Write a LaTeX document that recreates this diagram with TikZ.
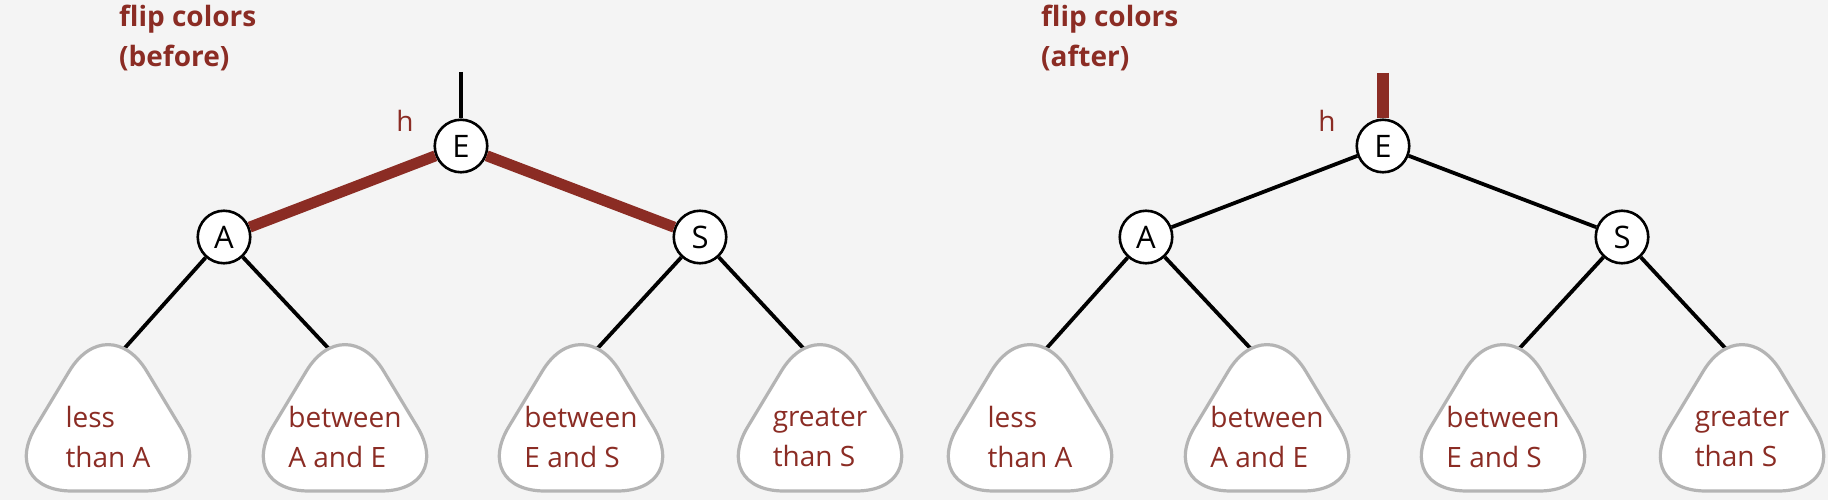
\documentclass[tikz,border=0pt]{standalone}
\usepackage{fontspec}
\setmainfont{Open Sans}
\usepackage{xcolor}
\usepackage{tikz}
\usetikzlibrary{positioning}
\definecolor{bookred}{HTML}{8B2C24}
\definecolor{pagebg}{HTML}{F4F4F4}
\definecolor{treegray}{HTML}{B4B4B4}

\begin{document}
\begin{tikzpicture}[x=1pt, y=-1pt, on grid,
  key/.style={draw, circle, fill=white, line width=2.6pt, minimum size=52.5pt, inner sep=0pt,
    font=\fontsize{31}{33}\selectfont},
  link/.style={line width=3.8pt},
  redlink/.style={draw=bookred, line width=11pt},
  subtree/.style={draw=treegray, fill=white, line width=3.2pt, rounded corners=75pt},
  rangebox/.style={text=bookred, align=left, inner sep=0pt, font=\fontsize{28}{40}\selectfont},
  hlabel/.style={text=bookred, inner sep=0pt, font=\fontsize{28}{30}\selectfont},
  title/.style={text=bookred, align=left, inner sep=0pt, anchor=north west,
    font=\bfseries\fontsize{28}{40}\selectfont}]
  \useasboundingbox (0,0) rectangle (1828,500);
  \fill[pagebg] (0,0) rectangle (1828,500);

  % before the flip
  \node[title] (ltitle) at (119,5) {flip colors\\(before)};
  \node[key] (lE) at (461,146) {E};
  \node[key] (lA) at (224,237) {A};
  \node[key] (lS) at (700,237) {S};
  \node[hlabel, above left=25pt and 56pt of lE] (lh) {h};
  \coordinate (lstem) at (461,72);
  \coordinate (lt1) at (123,350);
  \coordinate (lt2) at (330,350);
  \coordinate (lt3) at (596,350);
  \coordinate (lt4) at (805,350);

  \draw[link] (lstem) -- (lE);
  \draw[redlink] (lE) -- (lA);
  \draw[redlink] (lE) -- (lS);
  \draw[link] (lA) -- (lt1);
  \draw[link] (lA) -- (lt2);
  \draw[link] (lS) -- (lt3);
  \draw[link] (lS) -- (lt4);

  \draw[subtree] (108,491) -- (219,491) -- (108,307) -- (-3,491) -- (108,491);
  \draw[subtree] (345,491) -- (456,491) -- (345,307) -- (234,491) -- (345,491);
  \draw[subtree] (581,491) -- (692,491) -- (581,307) -- (470,491) -- (581,491);
  \draw[subtree] (820,491) -- (931,491) -- (820,307) -- (709,491) -- (820,491);
  \node[rangebox] (lr1) at (108,437) {less\\than A};
  \node[rangebox] (lr2) at (345,437) {between\\A and E};
  \node[rangebox] (lr3) at (581,437) {between\\E and S};
  \node[rangebox] (lr4) at (820,437) {greater\\than S};

  % after the flip
  \begin{scope}[xshift=922pt]
    \node[title] (rtitle) at (119,5) {flip colors\\(after)};
    \node[key] (rE) at (461,146) {E};
    \node[key] (rA) at (224,237) {A};
    \node[key] (rS) at (700,237) {S};
    \node[hlabel, above left=25pt and 56pt of rE] (rh) {h};
    \coordinate (rstem) at (461,73);
    \coordinate (rt1) at (123,350);
    \coordinate (rt2) at (330,350);
    \coordinate (rt3) at (596,350);
    \coordinate (rt4) at (805,350);

    \draw[redlink, line width=11.5pt] (rstem) -- (rE);
    \draw[link] (rE) -- (rA);
    \draw[link] (rE) -- (rS);
    \draw[link] (rA) -- (rt1);
    \draw[link] (rA) -- (rt2);
    \draw[link] (rS) -- (rt3);
    \draw[link] (rS) -- (rt4);

    \draw[subtree] (108,491) -- (219,491) -- (108,307) -- (-3,491) -- (108,491);
    \draw[subtree] (345,491) -- (456,491) -- (345,307) -- (234,491) -- (345,491);
    \draw[subtree] (581,491) -- (692,491) -- (581,307) -- (470,491) -- (581,491);
    \draw[subtree] (820,491) -- (931,491) -- (820,307) -- (709,491) -- (820,491);
    \node[rangebox] (rr1) at (108,437) {less\\than A};
    \node[rangebox] (rr2) at (345,437) {between\\A and E};
    \node[rangebox] (rr3) at (581,437) {between\\E and S};
    \node[rangebox] (rr4) at (820,437) {greater\\than S};
  \end{scope}
\end{tikzpicture}
\end{document}
